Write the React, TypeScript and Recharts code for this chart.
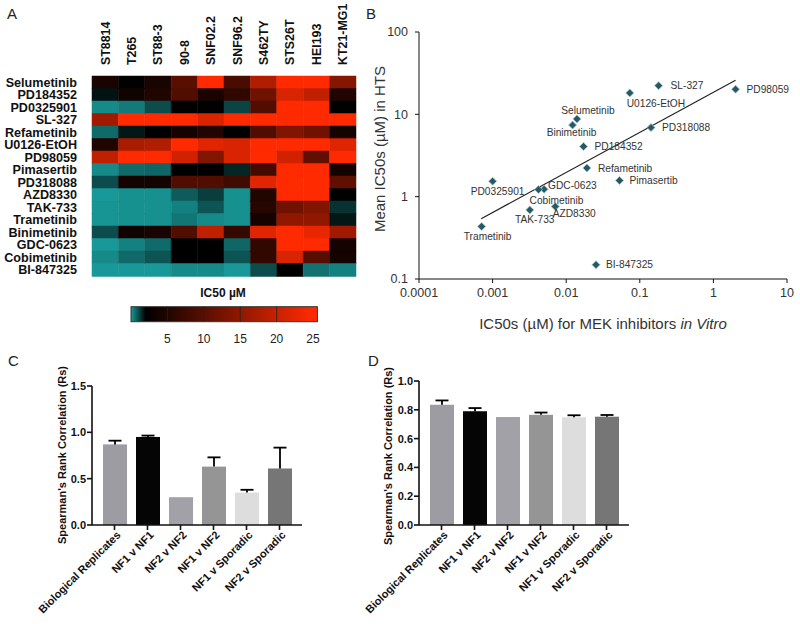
import React from 'react';
import {
  BarChart, Bar, XAxis, YAxis, Cell, ScatterChart, Scatter,
} from 'recharts';

const FONT = '"Liberation Sans", Arial, Helvetica, sans-serif';

// ---------- Panel A: heatmap ----------
const drugs = [
  'Selumetinib', 'PD184352', 'PD0325901', 'SL-327', 'Refametinib', 'U0126-EtOH', 'PD98059',
  'Pimasertib', 'PD318088', 'AZD8330', 'TAK-733', 'Trametinib', 'Binimetinib', 'GDC-0623',
  'Cobimetinib', 'BI-847325',
];
const cellLines = ['ST8814', 'T265', 'ST88-3', '90-8', 'SNF02.2', 'SNF96.2', 'S462TY', 'STS26T', 'HEI193', 'KT21-MG1'];
// IC50 (µM), one row per drug, columns follow cellLines
const ic50ByDrug: number[][] = [
  [4.3, 2, 4.2, 10, 25, 8.7, 18, 25, 25, 14],
  [1.75, 3.4, 4.9, 9.2, 4.3, 6.3, 12, 21.5, 19.3, 4.9],
  [0.2, 0.4, 1.0, 2, 2, 1.1, 9.2, 25, 25, 2],
  [16.4, 25, 25, 25, 21.5, 25, 25, 25, 25, 25],
  [0.6, 1.7, 2, 3.9, 4.9, 2, 9.2, 13.5, 12.1, 3.9],
  [4.9, 17.2, 17.9, 25, 22.2, 21.5, 25, 25, 25, 22],
  [19.3, 25, 25, 20.8, 13.5, 21.5, 25, 20.8, 10.7, 25],
  [0.2, 0.6, 0.67, 2, 2, 1.5, 8.2, 25, 25, 3.9],
  [1.0, 3.9, 3.9, 9.2, 9.2, 7.8, 22.2, 25, 25, 10.7],
  [0, 0.1, 0.1, 0.8, 1.2, 0.1, 4.9, 25, 25, 2],
  [0.05, 0.1, 0.1, 0.3, 0.9, 0.1, 5.3, 12.1, 13.5, 1.34],
  [0.05, 0.1, 0.1, 0.45, 0.2, 0.1, 3.9, 15, 15, 1.7],
  [1.0, 3.4, 4.2, 9.2, 19.3, 6.8, 22.2, 25, 22.9, 16.4],
  [0, 0.3, 0.6, 2, 2, 0.67, 6.3, 25, 25, 3.9],
  [0.2, 0.6, 0.9, 2, 2, 0.9, 6.3, 21.5, 9.7, 3.9],
  [0, 0, 0, 0.2, 0.2, 0, 1.0, 2, 0.5, 0.3],
];
const colorbarTicks = [5, 10, 15, 20, 25];
const colorbarMax = 25.6;

// ---------- Panel B: scatter ----------
const scatterDrugs = [
  'SL-327', 'PD98059', 'U0126-EtOH', 'Selumetinib', 'Binimetinib', 'PD318088', 'PD184352',
  'Refametinib', 'Pimasertib', 'PD0325901', 'GDC-0623', 'Cobimetinib', 'TAK-733', 'AZD8330',
  'Trametinib', 'BI-847325',
];
const ic50InVitro = [0.18, 2.0, 0.073, 0.014, 0.0122, 0.142, 0.0172, 0.0191, 0.053, 0.001, 0.005, 0.0042, 0.0032, 0.0071, 0.00071, 0.0254];
const ic50HTS = [22.3, 20.2, 18.2, 8.8, 7.4, 6.9, 4.07, 2.23, 1.57, 1.54, 1.23, 1.22, 0.69, 0.76, 0.435, 0.149];
const fitX = [0.0007, 2.0];
const fitY = [0.54, 26];
const logTicksX = [0.0001, 0.001, 0.01, 0.1, 1, 10];
const logTicksY = [0.1, 1, 10, 100];

// ---------- Panels C & D: bars ----------
const comparisons = ['Biological Replicates', 'NF1 v NF1', 'NF2 v NF2', 'NF1 v NF2', 'NF1 v Sporadic', 'NF2 v Sporadic'];
const rsC = [0.87, 0.95, 0.30, 0.63, 0.35, 0.61];
const errC = [0.04, 0.015, 0, 0.10, 0.03, 0.225];
const rsD = [0.835, 0.79, 0.75, 0.765, 0.748, 0.752];
const errD = [0.03, 0.022, 0, 0.016, 0.014, 0.012];
const ticksC = [0, 0.5, 1.0, 1.5];
const ticksD = [0, 0.2, 0.4, 0.6, 0.8, 1.0];

const barColors = ['#9d9ca2', '#050505', '#a2a1a7', '#959595', '#dddddd', '#767676'];

// ---------- helpers ----------
const TEAL = [24, 152, 152];
const RED = [255, 42, 0];
function heatColor(v: number): string {
  let c: number[];
  if (v <= 2) {
    const t = Math.max(0, v) / 2;
    c = TEAL.map((k) => k * (1 - t));
  } else {
    const t = Math.min(1, (v - 2) / 23);
    c = RED.map((k) => k * t);
  }
  return `rgb(${c.map((k) => Math.round(k)).join(',')})`;
}

const heatRows = drugs.map((d) => {
  const r: Record<string, any> = { drug: d };
  cellLines.forEach((_, j) => { r['c' + j] = 1; });
  return r;
});

const RowTick = (props: any) => {
  const { x, y, payload } = props;
  return (
    <text x={x} y={y} dy="0.35em" textAnchor="end" fontSize={12.6} fontWeight="bold" fill="#111" fontFamily={FONT}>
      {payload.value}
    </text>
  );
};

const ColTick = (props: any) => {
  const { x, y, payload } = props;
  const name = cellLines[Math.floor(payload.value)];
  return (
    <text x={x} y={y} dy="0.35em" textAnchor="start" transform={`rotate(-90 ${x} ${y})`} fontSize={12.4} fontWeight="bold" fill="#111" fontFamily={FONT}>
      {name}
    </text>
  );
};

const gradStops = [0, 0.5, 1, 1.5, 2, 5, 10, 15, 20, 25, colorbarMax];
const colorbarData = [{ name: 'IC50', v: colorbarMax }];

const ColorbarShape = (props: any) => {
  const { x, y, width, height } = props;
  return (
    <g>
      <rect x={x} y={y} width={width} height={height} fill="url(#ic50grad)" stroke="#333" strokeWidth={1} />
      {colorbarTicks.slice(0, 4).map((t) => {
        const lx = x + (width * t) / colorbarMax;
        return <line key={t} x1={lx} x2={lx} y1={y} y2={y + height} stroke="#222" strokeWidth={0.8} />;
      })}
    </g>
  );
};

const labelPlacement: Record<string, [number, number, 'start' | 'middle' | 'end']> = {
  'SL-327': [12, 0, 'start'],
  'PD98059': [11, 0, 'start'],
  'U0126-EtOH': [-3, 11, 'start'],
  'Selumetinib': [11, -8, 'middle'],
  'Binimetinib': [-1, 7, 'middle'],
  'PD318088': [11, 0, 'start'],
  'PD184352': [11, 0, 'start'],
  'Refametinib': [11, 0, 'start'],
  'Pimasertib': [10, 0, 'start'],
  'PD0325901': [5, 10, 'middle'],
  'GDC-0623': [4, -4, 'start'],
  'Cobimetinib': [18, 11, 'middle'],
  'TAK-733': [5, 9, 'middle'],
  'AZD8330': [19, 7, 'middle'],
  'Trametinib': [6, 10, 'middle'],
  'BI-847325': [10, 0, 'start'],
};

const PointShape = (props: any) => {
  const { cx, cy, payload } = props;
  const place = labelPlacement[payload.name] || [10, 0, 'start'];
  const s = 4;
  return (
    <g>
      <polygon points={`${cx},${cy - s} ${cx + s},${cy} ${cx},${cy + s} ${cx - s},${cy}`} fill="#245a68" stroke="#a9c0c4" strokeWidth={0.8} />
      <text x={cx + place[0]} y={cy + place[1]} dy="0.35em" textAnchor={place[2]} fontSize={10.2} fill="#333" fontFamily={FONT}>
        {payload.name}
      </text>
    </g>
  );
};

const scatterData = scatterDrugs.map((n, i) => ({ name: n, x: ic50InVitro[i], y: ic50HTS[i] }));
const fitData = fitX.map((x, i) => ({ x, y: fitY[i] }));

const makeBarShape = (errs: number[]) => (props: any) => {
  const { x, y, width, height, payload } = props;
  const idx = comparisons.indexOf(payload.name);
  const v = payload.rs;
  const ppu = v > 0 ? height / v : 0;
  const e = errs[idx];
  const top = y - e * ppu;
  const cx = x + width / 2;
  return (
    <g>
      <rect x={x} y={y} width={width} height={height} fill={barColors[idx]} />
      {e > 0 && (
        <g stroke="#000" strokeWidth={1.8}>
          <line x1={cx} x2={cx} y1={y} y2={top} />
          <line x1={cx - 6.5} x2={cx + 6.5} y1={top} y2={top} />
        </g>
      )}
    </g>
  );
};

const SlantTick = (props: any) => {
  const { x, y, payload } = props;
  const px = x + 4;
  const py = y + 1;
  return (
    <text x={px} y={py} dy="0.35em" textAnchor="end" transform={`rotate(-45 ${px} ${py})`} fontSize={11} fontWeight="bold" fill="#111" fontFamily={FONT}>
      {payload.value}
    </text>
  );
};

const boldTick = { fontSize: 11, fontWeight: 'bold', fill: '#111', fontFamily: FONT } as any;

function BarPanel({ values, errs, ticks, max, width, marginTop, marginRight, yWidth }: any) {
  const data = comparisons.map((c, i) => ({ name: c, rs: values[i] }));
  return (
    <BarChart width={width} height={284} data={data} margin={{ top: marginTop, right: marginRight, left: 0, bottom: 0 }}>
      <XAxis dataKey="name" height={99} padding={{ left: 6, right: 6 }} interval={0} tick={<SlantTick />}
        tickSize={5} tickMargin={2} stroke="#111" strokeWidth={1.6} />
      <YAxis domain={[0, max]} ticks={ticks} width={yWidth} tickFormatter={(v: number) => v.toFixed(1)}
        tick={boldTick} tickSize={5} tickMargin={1} stroke="#111" strokeWidth={1.6} />
      <Bar dataKey="rs" barSize={24} shape={makeBarShape(errs)} isAnimationActive={false} />
    </BarChart>
  );
}

export default function App() {
  return (
    <div style={{ position: 'absolute', left: 0, top: 0, width: 800, height: 624, background: '#fff', fontFamily: FONT, overflow: 'hidden' }}>
      <svg width={0} height={0} style={{ position: 'absolute' }}>
        <defs>
          <linearGradient id="ic50grad" x1="0" x2="1" y1="0" y2="0">
            {gradStops.map((v) => (
              <stop key={v} offset={v / colorbarMax} stopColor={heatColor(v)} />
            ))}
          </linearGradient>
        </defs>
      </svg>

      {/* Panel A heatmap */}
      <div style={{ position: 'absolute', left: 0, top: 0 }}>
        <BarChart width={360} height={280} data={heatRows} layout="vertical" margin={{ top: 0, right: 4, bottom: 4, left: 0 }}
          barCategoryGap={0} barGap={0}>
          <XAxis type="number" orientation="top" domain={[0, 10]} ticks={cellLines.map((_, j) => j + 0.5)} height={76}
            axisLine={false} tickLine={false} tickSize={6} tickMargin={5} tick={<ColTick />} interval={0} />
          <YAxis type="category" dataKey="drug" width={92} axisLine={false} tickLine={false} tickSize={6} tickMargin={9}
            tick={<RowTick />} interval={0} />
          {cellLines.map((c, j) => (
            <Bar key={c} dataKey={'c' + j} stackId="h" isAnimationActive={false}>
              {drugs.map((d, i) => (
                <Cell key={d} fill={heatColor(ic50ByDrug[i][j])} stroke={heatColor(ic50ByDrug[i][j])} strokeWidth={0.5} />
              ))}
            </Bar>
          ))}
        </BarChart>
      </div>

      {/* Colorbar */}
      <div style={{ position: 'absolute', left: 100, top: 290 }}>
        <BarChart width={240} height={60} data={colorbarData} layout="vertical" barCategoryGap={0}
          margin={{ top: 16.7, right: 22.6, bottom: 0, left: 31 }}>
          <XAxis type="number" domain={[0, colorbarMax]} ticks={colorbarTicks} height={28} axisLine={false}
            tickLine={false} tickSize={0} tickMargin={12} tick={{ fontSize: 12, fill: '#222', fontFamily: FONT }} interval={0} />
          <YAxis type="category" dataKey="name" hide />
          <Bar dataKey="v" shape={<ColorbarShape />} isAnimationActive={false} />
        </BarChart>
      </div>

      {/* Panel B scatter */}
      <div style={{ position: 'absolute', left: 340, top: 0 }}>
        <ScatterChart width={460} height={340} margin={{ top: 32, right: 13, bottom: 0, left: 0 }}>
          <XAxis type="number" dataKey="x" scale="log" domain={[0.0001, 10]} ticks={logTicksX} height={61}
            tick={{ fontSize: 12.5, fill: '#333', fontFamily: FONT }} stroke="#111" tickSize={4} tickMargin={5}
            tickFormatter={(v: number) => String(v)} interval={0} />
          <YAxis type="number" dataKey="y" scale="log" domain={[0.1, 100]} ticks={logTicksY} width={79}
            tick={{ fontSize: 12.5, fill: '#333', fontFamily: FONT }} stroke="#111" tickSize={4} tickMargin={7}
            tickFormatter={(v: number) => String(v)} interval={0} />
          <Scatter data={fitData} line={{ stroke: '#222', strokeWidth: 1.2 }} shape={() => <g />} isAnimationActive={false} />
          <Scatter data={scatterData} shape={<PointShape />} isAnimationActive={false} />
        </ScatterChart>
      </div>

      {/* Panel C */}
      <div style={{ position: 'absolute', left: 0, top: 340 }}>
        <BarPanel values={rsC} errs={errC} ticks={ticksC} max={1.5} width={360} marginTop={46} marginRight={58} yWidth={92} />
      </div>

      {/* Panel D */}
      <div style={{ position: 'absolute', left: 360, top: 340 }}>
        <BarPanel values={rsD} errs={errD} ticks={ticksD} max={1.0} width={300} marginTop={41} marginRight={31} yWidth={59} />
      </div>

      {/* Titles and panel letters */}
      <svg width={800} height={624} style={{ position: 'absolute', left: 0, top: 0, pointerEvents: 'none' }} fontFamily={FONT}>
        <text x={7} y={19} fontSize={15} fill="#222">A</text>
        <text x={366} y={19} fontSize={15} fill="#222">B</text>
        <text x={8} y={366} fontSize={15} fill="#222">C</text>
        <text x={368} y={366} fontSize={15} fill="#222">D</text>
        <text x={223} y={297} fontSize={12} fontWeight="bold" fill="#111" textAnchor="middle">IC50 µM</text>
        <text x={379} y={149} fontSize={15} fill="#333" textAnchor="middle" dominantBaseline="central" transform="rotate(-90 379 149)">
          Mean IC50s (µM) in HTS
        </text>
        <text x={603} y={323} fontSize={15} fill="#333" textAnchor="middle" dominantBaseline="central">
          IC50s (µM) for MEK inhibitors <tspan fontStyle="italic">in Vitro</tspan>
        </text>
        <text x={62} y={455} fontSize={11} fontWeight="bold" fill="#111" textAnchor="middle" dominantBaseline="central" transform="rotate(-90 62 455)">
          Spearman's Rank Correlation (Rs)
        </text>
        <text x={388} y={456} fontSize={11} fontWeight="bold" fill="#111" textAnchor="middle" dominantBaseline="central" transform="rotate(-90 388 456)">
          Spearman's Rank Correlation (Rs)
        </text>
      </svg>
    </div>
  );
}
